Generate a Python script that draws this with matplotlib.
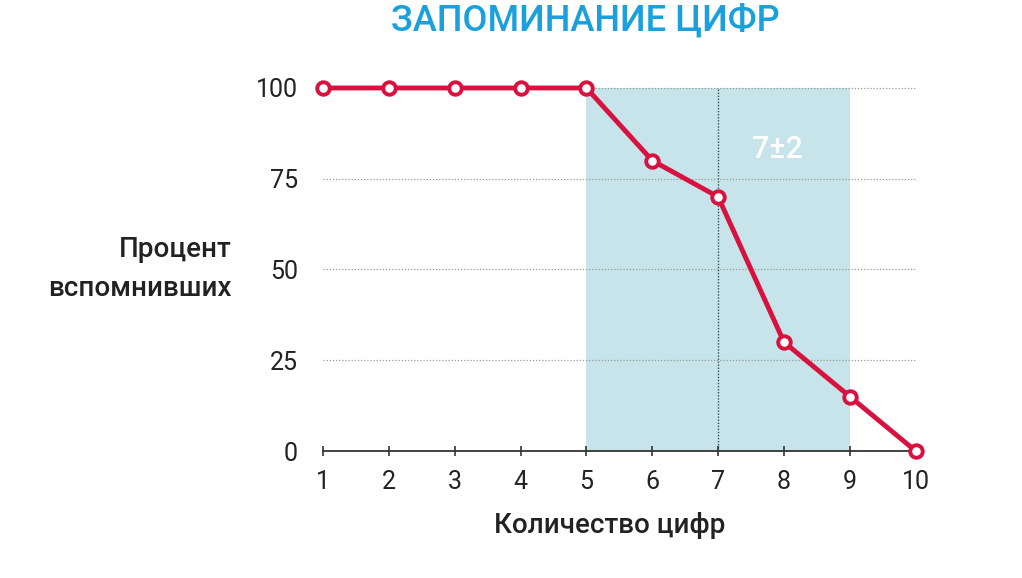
import numpy as np
import matplotlib
matplotlib.use("Agg")
import matplotlib.pyplot as plt

digits = [1, 2, 3, 4, 5, 6, 7, 8, 9, 10]
percent = [100, 100, 100, 100, 100, 80, 70, 30, 15, 0]
y_ticks = [0, 25, 50, 75, 100]
band = (5, 9)
band_mid = 7

red = "#d8113f"
blue_title = "#1aa0dc"
shade = "#c6e4e9"

plt.rcParams["font.family"] = ["Roboto", "DejaVu Sans"]

fig = plt.figure(figsize=(10.22, 5.78), dpi=100)
ax = fig.add_axes([0.316, 0.2197, 0.896 - 0.316, 0.8478 - 0.2197])

ax.set_xlim(digits[0], digits[-1])
ax.set_ylim(0, 100)

# band 7±2
ax.fill_between([band[0], band[1]], 0, 100, color=shade, zorder=0, lw=0)
ax.plot([band_mid, band_mid], [0, 100], color="#2f4f55", lw=1.0, ls=(0, (1, 1.2)), zorder=1)
ax.text(7.9, 83, "7±2", color="white", fontsize=22, fontweight="medium",
        ha="center", va="center", zorder=2)

for yv in y_ticks[1:]:
    ax.plot([digits[0], digits[-1]], [yv, yv], color="#999999", lw=0.9,
            ls=(0, (1, 1.5)), zorder=1, clip_on=False)

ax.plot(digits, percent, color=red, lw=3.5, marker="o", markersize=9,
        markerfacecolor="white", markeredgecolor=red, markeredgewidth=2.8,
        zorder=5, clip_on=False)

for s in ["top", "right", "left"]:
    ax.spines[s].set_visible(False)
ax.spines["bottom"].set_color("#333333")
ax.spines["bottom"].set_linewidth(1.3)

ax.set_xticks(digits)
ax.set_yticks(y_ticks)
ax.tick_params(axis="x", direction="inout", length=7, width=1.2, color="#333333",
               labelsize=18, pad=10, labelcolor="#222222")
ax.tick_params(axis="y", length=0, labelsize=18, pad=18, labelcolor="#222222")

fig.text(0.573, 0.963, "ЗАПОМИНАНИЕ ЦИФР", color=blue_title, fontsize=26,
         fontweight="medium", ha="center", va="center")
fig.text(0.597, 0.09, "Количество цифр", color="#222222", fontsize=20,
         fontweight="medium", ha="center", va="center")
fig.text(0.227, 0.535, "Процент\nвспомнивших", color="#222222", fontsize=20,
         fontweight="medium", ha="right", va="center", linespacing=1.55)

fig.savefig("out.png", dpi=100)
